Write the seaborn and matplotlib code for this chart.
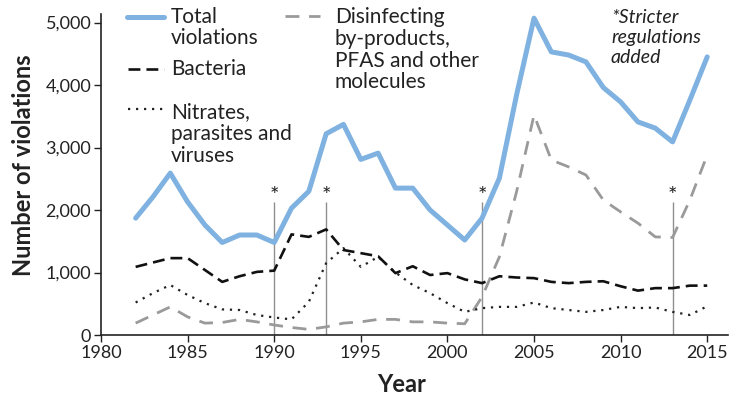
import pandas as pd
import matplotlib
matplotlib.use("Agg")
import matplotlib.pyplot as plt
import seaborn as sns
from matplotlib.lines import Line2D

# Datele
years = list(range(1982, 2016))
total = [1870, 2210, 2590, 2130, 1760, 1480, 1600, 1600, 1480, 2030, 2300, 3220,
         3370, 2810, 2910, 2350, 2350, 2000, 1760, 1520, 1870, 2510, 3850, 5070,
         4530, 4480, 4370, 3960, 3730, 3410, 3310, 3090, 3760, 4450]
bacteria = [1090, 1160, 1230, 1230, 1040, 850, 940, 1010, 1030, 1610, 1570, 1690,
            1360, 1310, 1260, 990, 1100, 960, 990, 890, 830, 940, 920, 910,
            850, 830, 850, 860, 780, 710, 750, 750, 790, 790]
nitrates = [520, 670, 800, 640, 510, 410, 400, 320, 280, 250, 530, 1150,
            1390, 1090, 1250, 1000, 800, 670, 510, 370, 430, 450, 450, 520,
            430, 400, 370, 400, 450, 430, 440, 370, 320, 460]
disinfect = [190, 320, 450, 290, 190, 200, 250, 210, 160, 120, 90, 130,
             190, 210, 250, 250, 210, 210, 190, 180, 610, 1250, 2300, 3520,
             2800, 2690, 2560, 2160, 1970, 1790, 1570, 1560, 2160, 2880]
reg_years = [1990, 1993, 2002, 2013]

labels = {
    "total": ["Total", "violations"],
    "bact": ["Bacteria"],
    "nitr": ["Nitrates,", "parasites and", "viruses"],
    "dis": ["Disinfecting", "by-products,", "PFAS and other", "molecules"],
}
note = ["*Stricter", "regulations", "added"]

df = pd.DataFrame({"Year": years, "total": total, "bact": bacteria,
                   "nitr": nitrates, "dis": disinfect})
long = df.melt(id_vars="Year", var_name="series", value_name="count")

sns.set_style("ticks")
plt.rcParams["font.family"] = ["Lato", "DejaVu Sans"]

blue = "#7fb2e0"
grey = "#9a9a9a"
ink = "#222222"
W, H = 730, 399
fig, ax = plt.subplots(figsize=(7.3, 3.99), dpi=100)
fig.subplots_adjust(left=101 / W, right=728 / W, bottom=1 - 335 / H, top=1 - 14.4 / H)

# liniile verticale pentru reglementari
for y in reg_years:
    ax.vlines(y, 0, 2130, color="#8f8f8f", lw=1, zorder=1)
    ax.text(y, 2060, "*", ha="center", va="bottom", fontsize=16, color=ink)

styles = {
    "dis": dict(color=grey, lw=2, ls=(0, (5, 3.5))),
    "nitr": dict(color=ink, lw=1.6, ls=(0, (1, 2.6))),
    "bact": dict(color="#111111", lw=1.9, ls=(0, (4.5, 2.3))),
    "total": dict(color=blue, lw=3.6, ls="-"),
}
for key, st in styles.items():
    sub = long[long["series"] == key]
    sns.lineplot(data=sub, x="Year", y="count", ax=ax, color=st["color"],
                 lw=st["lw"], linestyle=st["ls"], legend=False)

ax.set_xlim(1980, 2016.2)
ax.set_ylim(0, 5130)
ax.set_xticks(range(1980, 2016, 5))
ax.set_yticks(range(0, 5001, 1000))
ax.yaxis.set_major_formatter(matplotlib.ticker.StrMethodFormatter("{x:,.0f}"))
ax.tick_params(labelsize=13, length=5, width=1, colors=ink, pad=2)
for s in ["left", "bottom"]:
    ax.spines[s].set_linewidth(1.2)
    ax.spines[s].set_color(ink)
sns.despine(ax=ax)
ax.set_xlabel("Year", fontsize=17, fontweight="bold", color=ink)
ax.set_ylabel("Number of violations", fontsize=17, fontweight="bold", color=ink)
ax.xaxis.set_label_coords((402 - 101) / 627, -(392 - 335) / 320.6)
ax.yaxis.set_label_coords(-(101 - 24) / 627, (335 - 165) / 320.6)
ax.xaxis.label.set_va("baseline")
ax.yaxis.label.set_va("center")


# legenda desenata manual (pozitii in pixeli de figura)
def fig_xy(px, py):
    return px / W, 1 - py / H


def text_lines(lines, x, y_base, step, **kw):
    for i, line in enumerate(lines):
        tx, ty = fig_xy(x, y_base + i * step)
        fig.text(tx, ty, line, ha="left", va="baseline", color=ink, **kw)


def legend_entry(key, x0, x1, y_line, x_text, y_base):
    st = styles[key]
    xa, ya = fig_xy(x0, y_line)
    xb, _ = fig_xy(x1, y_line)
    fig.add_artist(Line2D([xa, xb], [ya, ya], transform=fig.transFigure,
                          color=st["color"], lw=st["lw"], ls=st["ls"]))
    text_lines(labels[key], x_text, y_base, 21.7, fontsize=15)


legend_entry("total", 127, 164, 17, 171, 22.7)
legend_entry("bact", 128, 164, 69, 171, 75)
legend_entry("nitr", 128, 164, 109, 171, 118.3)
legend_entry("dis", 285, 320, 16, 335, 23.3)

text_lines(note, 611, 23.3, 20, fontsize=14, style="italic")

fig.savefig("out.png", dpi=100)
